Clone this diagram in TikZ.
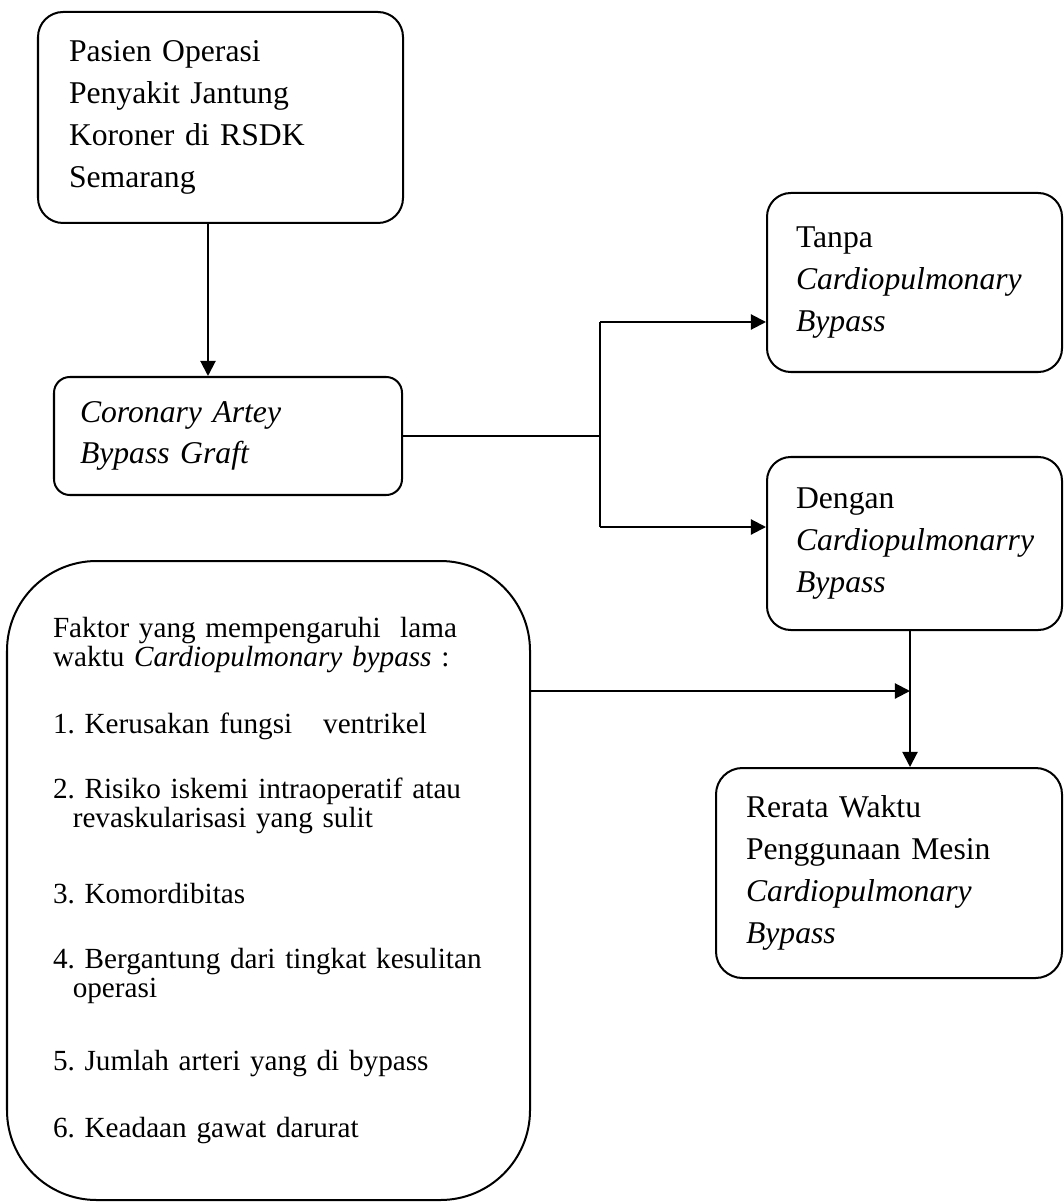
\documentclass[tikz,border=0pt]{standalone}
\usepackage{fontspec}
\setmainfont{Liberation Serif}
\usetikzlibrary{arrows.meta,positioning}

\newcommand{\px}{0.379pt}
\frenchspacing

\begin{document}
\begin{tikzpicture}
        [x=\px, y=-\px, ->, >={Triangle[length=5.7pt,width=5.7pt]}, line width=0.76pt,
        box/.style = {rectangle, rounded corners=9pt, draw=black, align=left, inner xsep=0pt, inner ysep=0pt,
                      font=\fontsize{12}{15.85}\selectfont},
        listbox/.style = {box, rounded corners=34pt, font=\fontsize{11.07}{11}\selectfont}]

        \useasboundingbox (0,0) rectangle (1063,1202);

        %% place elements on canvas
        \node[box, minimum width=365*\px, minimum height=211*\px, text width=303*\px, rounded corners=9.5pt]
            (pasien) at (220.5,117.5) {Pasien Operasi\\Penyakit Jantung\\Koroner di RSDK\\Semarang};
        \node[box, minimum width=348*\px, minimum height=118*\px, text width=296*\px, rounded corners=6pt]
            (cabg) at (228,436) {\textit{Coronary Artey}\\\textit{Bypass Graft}};
        \node[box, minimum width=295*\px, minimum height=179*\px, text width=237*\px]
            (tanpa) at (914.5,282.5) {Tanpa\\\textit{Cardiopulmonary}\\\textit{Bypass}};
        \node[box, minimum width=295*\px, minimum height=173*\px, text width=237*\px]
            (dengan) at (914.5,543.5) {Dengan\\\textit{Cardiopulmonarry}\\\textit{Bypass}};
        \node[box, minimum width=346*\px, minimum height=210*\px, text width=286*\px, rounded corners=10pt]
            (rerata) at (889,873) {Rerata Waktu\\Penggunaan Mesin\\\textit{Cardiopulmonary}\\\textit{Bypass}};
        \node[listbox, minimum width=523*\px, minimum height=639*\px, text width=431*\px]
            (faktor) at (268.5,880.5) {Faktor yang mempengaruhi\ \ lama\\
            waktu \textit{Cardiopulmonary bypass} :\\[14.4pt]
            1. Kerusakan fungsi\hspace{11.7pt}ventrikel\\[13.6pt]
            2. Risiko iskemi intraoperatif atau\\
            \hspace*{7.5pt}revaskularisasi yang sulit\\[17.8pt]
            3. Komordibitas\\[13.6pt]
            4. Bergantung dari tingkat kesulitan\\
            \hspace*{7.5pt}operasi\\[16.7pt]
            5. Jumlah arteri yang di bypass\\[14.4pt]
            6. Keadaan gawat darurat};

        %% branch points
        \coordinate (drop)  at (208,300);
        \coordinate (forkT) at (600,322);
        \coordinate (forkD) at (600,527);
        \coordinate (join)  at (910,691);

        %% connect elements
        \draw (pasien.south -| drop) -- (cabg.north -| drop);
        \draw[-] (cabg.east) -- (cabg.east -| forkT);
        \draw[-] (forkT) -- (forkD);
        \draw (forkT) -- (forkT -| tanpa.west);
        \draw (forkD) -- (forkD -| dengan.west);
        \draw (dengan.south -| join) -- (rerata.north -| join);
        \draw (faktor.east |- join) -- (join);
\end{tikzpicture}
\end{document}
